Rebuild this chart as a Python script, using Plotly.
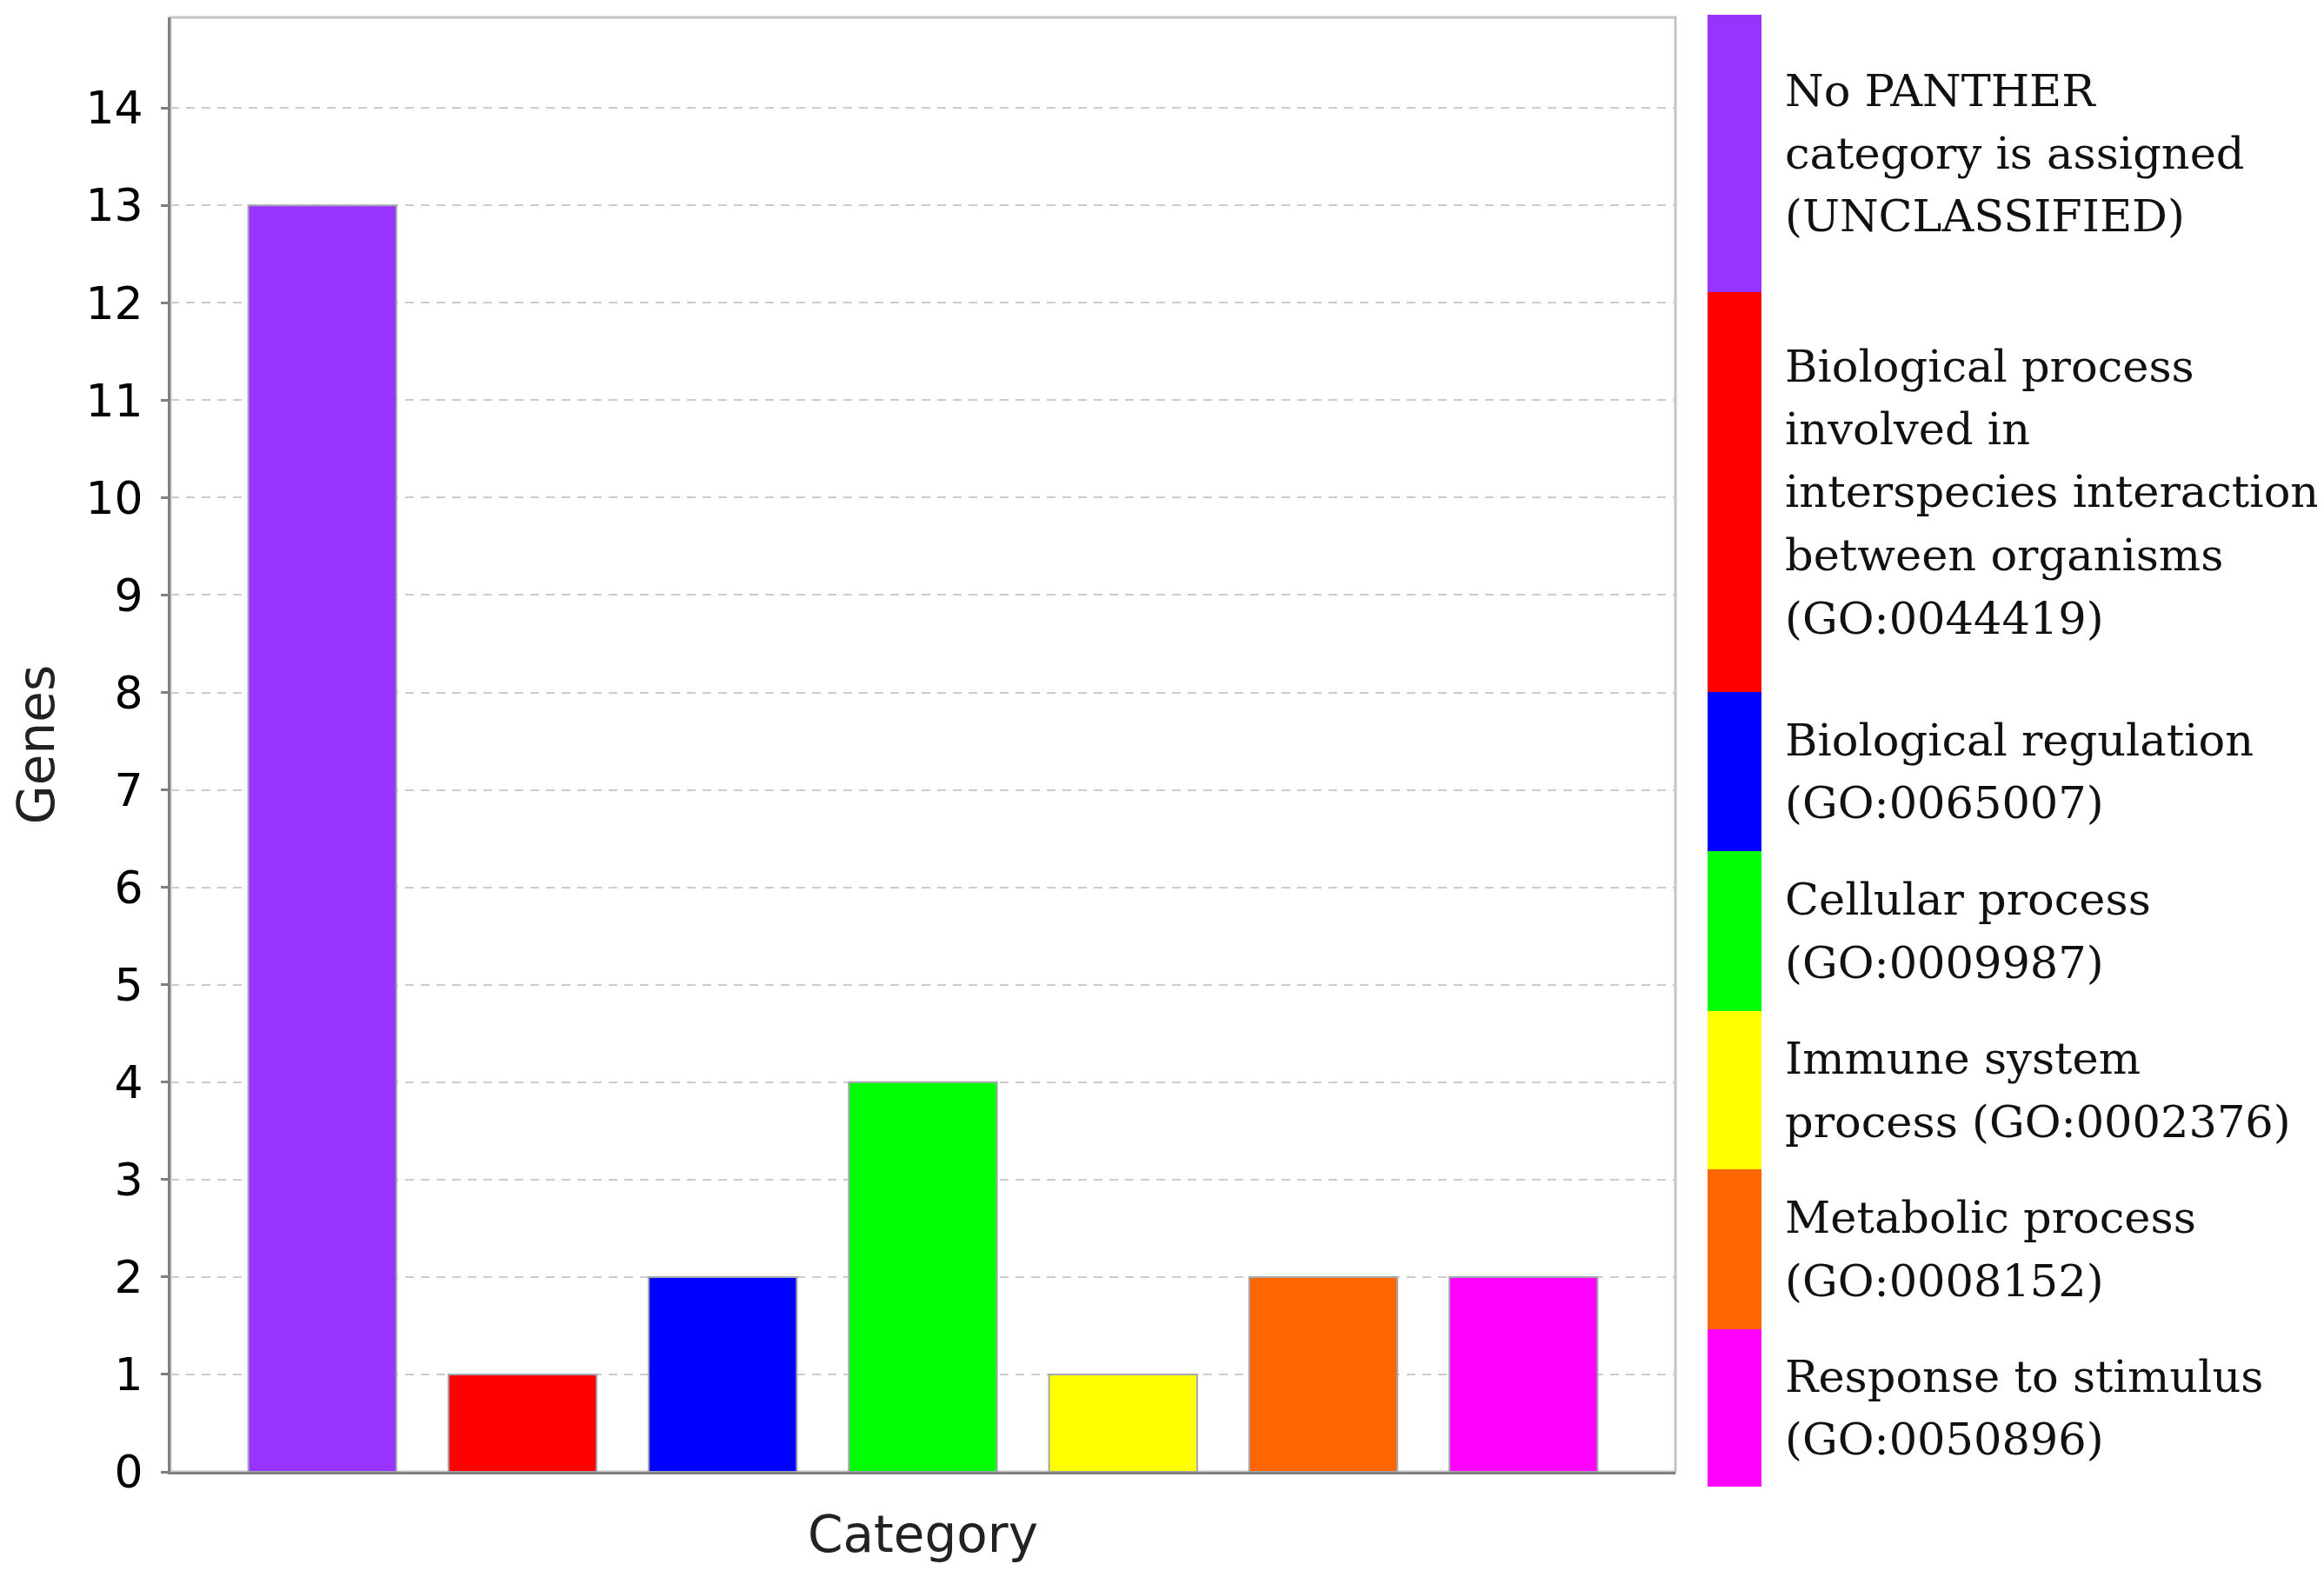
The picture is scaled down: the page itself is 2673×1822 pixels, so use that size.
import plotly.graph_objects as go

# ---- data ----
categories = [
    "No PANTHER category is assigned (UNCLASSIFIED)",
    "Biological process involved in interspecies interaction between organisms (GO:0044419)",
    "Biological regulation (GO:0065007)",
    "Cellular process (GO:0009987)",
    "Immune system process (GO:0002376)",
    "Metabolic process (GO:0008152)",
    "Response to stimulus (GO:0050896)",
]
genes = [13, 1, 2, 4, 1, 2, 2]
colors = ["#9933FF", "#FF0000", "#0000FF", "#00FF00", "#FFFF00", "#FF6600", "#FF00FF"]
legend_lines = [
    ["No PANTHER", "category is assigned", "(UNCLASSIFIED)"],
    ["Biological process", "involved in", "interspecies interaction", "between organisms", "(GO:0044419)"],
    ["Biological regulation", "(GO:0065007)"],
    ["Cellular process", "(GO:0009987)"],
    ["Immune system", "process (GO:0002376)"],
    ["Metabolic process", "(GO:0008152)"],
    ["Response to stimulus", "(GO:0050896)"],
]
y_ticks = list(range(0, 15))

# ---- layout geometry (pixels of the 2673x1822 canvas) ----
W, H = 2673, 1822
OFF = 8  # page body margin
plot_l, plot_r, plot_t, plot_b = 196 - OFF, 1927 - OFF, 20 - OFF, 1693 - OFF
strip_x0, strip_x1, text_x = 1964 - OFF, 2026 - OFF, 2051 - OFF
seg_bounds = [b - OFF for b in [17, 336, 796, 979, 1163, 1345, 1529, 1710]]
line_step = 72.5

def px(x):
    return x / W

def py(y):
    return 1 - y / H

fig = go.Figure()
fig.add_trace(go.Bar(
    x=categories,
    y=genes,
    width=0.74,
    marker=dict(color=colors, line=dict(color="#a4a8b0", width=2)),
    showlegend=False,
))

shapes = []
annotations = []
shapes.append(dict(type="rect", xref="paper", yref="paper",
                   x0=px(plot_l), x1=px(plot_r), y0=py(plot_b), y1=py(plot_t),
                   line=dict(color="#c4c4c4", width=3), layer="below"))

for i, (lines, col) in enumerate(zip(legend_lines, colors)):
    y0, y1 = seg_bounds[i], seg_bounds[i + 1]
    shapes.append(dict(type="rect", xref="paper", yref="paper",
                       x0=px(strip_x0), x1=px(strip_x1), y0=py(y1), y1=py(y0),
                       fillcolor=col, line=dict(width=0)))
    yc = (y0 + y1) / 2
    n = len(lines)
    for k, ln in enumerate(lines):
        yy = yc + (k - (n - 1) / 2) * line_step
        annotations.append(dict(xref="paper", yref="paper", x=px(text_x), y=py(yy),
                                xanchor="left", yanchor="middle", align="left", showarrow=False,
                                text=ln,
                                font=dict(family="DejaVu Serif", size=51, color="#111111")))

fig.update_layout(
    width=W, height=H,
    margin=dict(l=0, r=0, t=0, b=0),
    paper_bgcolor="white", plot_bgcolor="white",
    shapes=shapes, annotations=annotations,
)
fig.update_xaxes(
    domain=[px(plot_l), px(plot_r)],
    range=[-0.759, 6.759],
    showticklabels=False, ticks="",
    showgrid=False, zeroline=False,
    showline=True, linecolor="#808080", linewidth=3,
    title=dict(text="Category", standoff=50,
               font=dict(family="DejaVu Sans", size=58, color="#222222")),
    automargin=False,
)
fig.update_yaxes(
    domain=[py(plot_b), py(plot_t)],
    range=[0, 14.93],
    tickvals=y_ticks,
    ticks="outside", ticklen=8, tickwidth=3, tickcolor="#808080",
    ticklabelstandoff=10,
    tickfont=dict(family="DejaVu Sans", size=52, color="#000000"),
    showgrid=True, gridcolor="#cccccc", gridwidth=2, griddash="10px,8px",
    zeroline=False,
    showline=True, linecolor="#808080", linewidth=3,
    title=dict(text="Genes", standoff=32,
               font=dict(family="DejaVu Sans", size=58, color="#222222")),
    automargin=False,
)

fig.write_html("out.html")
